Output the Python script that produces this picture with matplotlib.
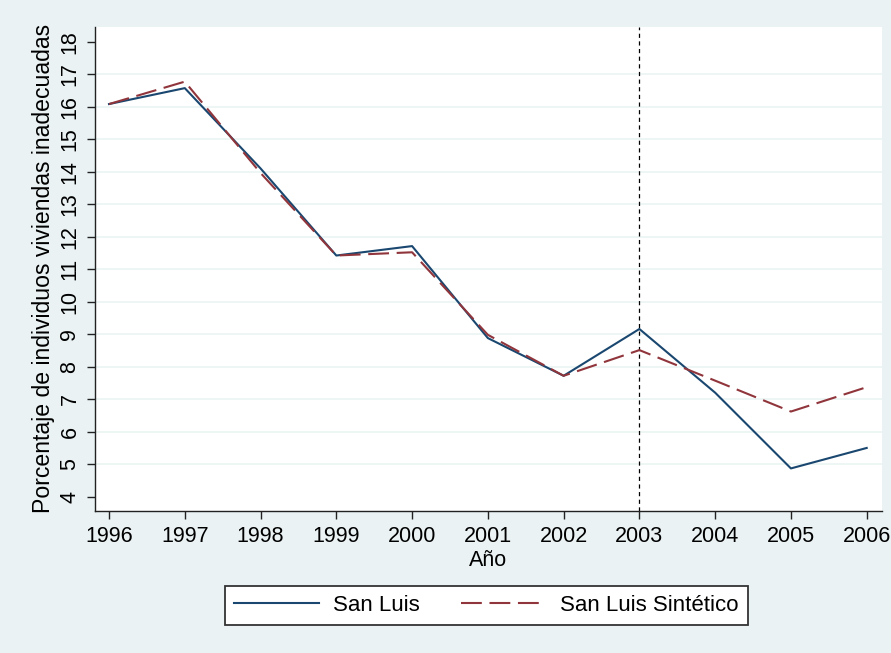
import matplotlib
matplotlib.use("Agg")
import matplotlib.pyplot as plt
from matplotlib.lines import Line2D

years = [1996, 1997, 1998, 1999, 2000, 2001, 2002, 2003, 2004, 2005, 2006]
san_luis = [16.08, 16.57, 14.10, 11.42, 11.71, 8.88, 7.72, 9.16, 7.20, 4.87, 5.50]
sintetico = [16.08, 16.77, 13.96, 11.42, 11.52, 8.98, 7.72, 8.51, 7.57, 6.62, 7.37]
y_ticks = list(range(4, 19))
grid_vals = list(range(5, 18))
treat_year = 2003

plt.rcParams['font.family'] = ['Liberation Sans', 'DejaVu Sans']
plt.rcParams['lines.scale_dashes'] = False

BG = '#EAF2F3'
NAVY = '#1A476F'
MAROON = '#90353B'
FS = 15.5
DASH = (15, 5.5)

fig = plt.figure(figsize=(8.91, 6.53), dpi=100, facecolor=BG)
ax = fig.add_axes([95/891, 1-511/653, (881.7-95)/891, (511-26.7)/653])
ax.set_facecolor('white')

for g in grid_vals:
    ax.axhline(g, color=BG, lw=1.1, zorder=0)

ax.plot(years, san_luis, color=NAVY, lw=1.5, label='San Luis', zorder=3)
ax.plot(years, sintetico, color=MAROON, lw=1.5, dashes=DASH,
        label='San Luis Sintético', zorder=3)
ax.axvline(treat_year, color='black', lw=0.9, dashes=(3, 2.5), zorder=2)

ax.set_xlim(1995.815, 2006.198)
ax.set_ylim(3.56, 18.46)
ax.set_xticks(years)
ax.set_yticks(y_ticks)
ax.set_xticklabels([str(y) for y in years], fontsize=FS)
ax.set_yticklabels([str(v) for v in y_ticks], fontsize=FS, rotation=90, va='center')

for s in ['top', 'right']:
    ax.spines[s].set_visible(False)
for s in ['left', 'bottom']:
    ax.spines[s].set_color('#222222')
    ax.spines[s].set_linewidth(1.0)
ax.tick_params(axis='both', direction='out', length=5.5, width=1.0, color='#222222')
ax.tick_params(axis='x', pad=5.5)
ax.tick_params(axis='y', pad=5)

ax.set_xlabel('Año', fontsize=FS, labelpad=2)
ax.set_ylabel('Porcentaje de individuos viviendas inadecuadas', fontsize=16.6, labelpad=3)

handles = [Line2D([0], [0], color=NAVY, lw=1.5),
           Line2D([0], [0], color=MAROON, lw=1.5, dashes=DASH)]
leg = fig.legend(handles, ['San Luis', 'San Luis Sintético'], ncol=2,
                 loc='center', bbox_to_anchor=((222+751)/2/891, 1-(584+627)/2/653),
                 fontsize=16, frameon=True, fancybox=False, handlelength=3.8,
                 handletextpad=0.65, columnspacing=1.85, borderpad=0.42,
                 borderaxespad=0)
fr = leg.get_frame()
fr.set_edgecolor('#333333')
fr.set_linewidth(1.3)
fr.set_facecolor('white')
fr.set_alpha(1)

fig.savefig('out.png', dpi=100, facecolor=BG)
